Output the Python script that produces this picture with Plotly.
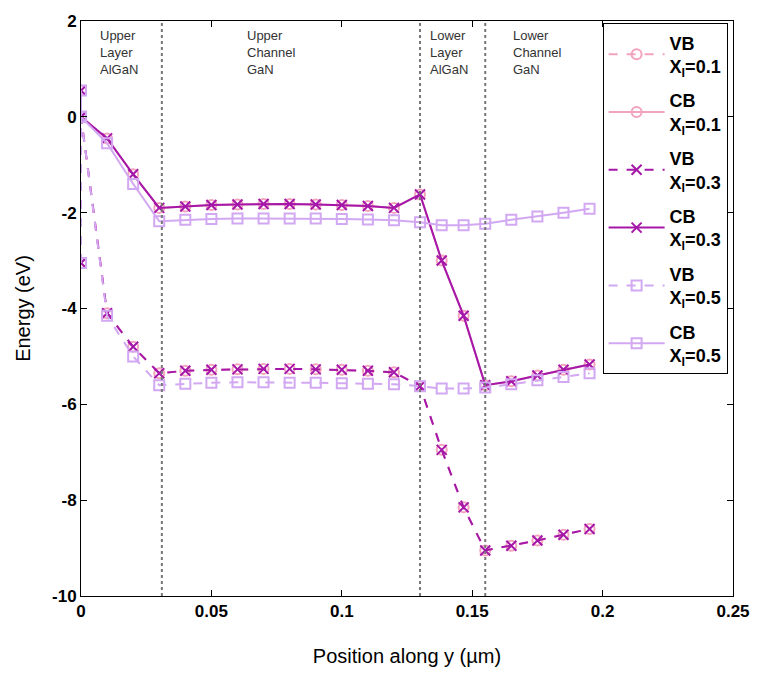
import plotly.graph_objects as go

# positions along y (um)
x_pos = [0, 0, 0.01, 0.02, 0.03, 0.04, 0.05, 0.06, 0.07, 0.08, 0.09, 0.10, 0.11, 0.12,
         0.13, 0.1383, 0.1467, 0.155, 0.165, 0.175, 0.185, 0.195]

cb_03 = [0.55, 0, -0.45, -1.2, -1.9, -1.87, -1.84, -1.83, -1.82, -1.82, -1.83, -1.84, -1.86, -1.9,
         -1.62, -3.0, -4.15, -5.6, -5.52, -5.4, -5.28, -5.17]
vb_03 = [-3.05, 0, -4.1, -4.8, -5.35, -5.3, -5.28, -5.27, -5.26, -5.26, -5.27, -5.28, -5.3, -5.33,
         -5.62, -6.95, -8.15, -9.05, -8.95, -8.84, -8.72, -8.6]
cb_05 = [0.55, 0, -0.55, -1.4, -2.18, -2.15, -2.13, -2.12, -2.12, -2.12, -2.12, -2.13, -2.14, -2.16,
         -2.2, -2.26, -2.26, -2.23, -2.15, -2.08, -2.0, -1.92]
vb_05 = [-3.05, 0, -4.15, -5.0, -5.6, -5.57, -5.55, -5.54, -5.54, -5.55, -5.55, -5.56, -5.57, -5.58,
         -5.62, -5.67, -5.67, -5.65, -5.58, -5.5, -5.43, -5.35]
# x = 0.1 curves are hidden under the x = 0.3 curves
cb_01 = list(cb_03)
vb_01 = list(vb_03)

boundaries = [0.031, 0.13, 0.155]
region_labels = ["Upper<br>Layer<br>AlGaN", "Upper<br>Channel<br>GaN",
                 "Lower<br>Layer<br>AlGaN", "Lower<br>Channel<br>GaN"]
region_x = [0.0065, 0.063, 0.133, 0.165]

x_ticks = [0, 0.05, 0.1, 0.15, 0.2, 0.25]
x_tick_text = ["0", "0.05", "0.1", "0.15", "0.2", "0.25"]
y_ticks = [2, 0, -2, -4, -6, -8, -10]

PINK = "#f2a3bd"
MAG = "#a517a8"
LAV = "#d2a8f2"

series = [
    ("VB", "0.1", vb_01, PINK, "circle-open", "dash"),
    ("CB", "0.1", cb_01, PINK, "circle-open", "solid"),
    ("VB", "0.3", vb_03, MAG, "x-thin-open", "dash"),
    ("CB", "0.3", cb_03, MAG, "x-thin-open", "solid"),
    ("VB", "0.5", vb_05, LAV, "square-open", "dash"),
    ("CB", "0.5", cb_05, LAV, "square-open", "solid"),
]

fig = go.Figure()
for i, (band, xl, ys, col, sym, dash) in enumerate(series):
    fig.add_trace(go.Scatter(
        x=x_pos, y=ys, mode="lines+markers",
        name=f"<b>{band}<br>X<sub>l</sub>=" + xl + "</b>",
        legendgroup=f"g{i}",
        line=dict(color=col, width=2, dash=dash),
        marker=dict(symbol=sym, size=10, color=col, line=dict(color=col, width=2)),
    ))

for b in boundaries:
    fig.add_shape(type="line", xref="x", yref="paper", x0=b, x1=b, y0=0, y1=1,
                  line=dict(color="#777777", width=2, dash="dot"), layer="above")

for lab, xx in zip(region_labels, region_x):
    fig.add_annotation(x=xx, y=1.9, xref="x", yref="y", text=lab, showarrow=False,
                       xanchor="left", yanchor="top", align="left",
                       font=dict(family="Liberation Sans, Arial", size=13, color="#333333"))

fig.update_layout(
    width=762, height=681,
    margin=dict(l=81, r=22, t=20, b=85),
    paper_bgcolor="white", plot_bgcolor="white",
    font=dict(family="Liberation Sans, Arial", color="black"),
    showlegend=True,
    legend=dict(x=0.8, y=0.996, xanchor="left", yanchor="top",
                bordercolor="black", borderwidth=1, bgcolor="white",
                font=dict(size=18, family="Liberation Sans, Arial"),
                tracegroupgap=8, itemwidth=56),
)
fig.update_xaxes(range=[0, 0.25], tickvals=x_ticks,
                 ticktext=[f"<b>{t}</b>" for t in x_tick_text],
                 ticks="inside", ticklen=6, tickcolor="black",
                 showline=True, linecolor="black", linewidth=1, mirror="ticks",
                 showgrid=False, zeroline=False,
                 tickfont=dict(size=17, family="Liberation Sans, Arial"),
                 title=dict(text="Position along y (µm)", font=dict(size=20), standoff=28))
fig.update_yaxes(range=[-10, 2], tickvals=y_ticks,
                 ticktext=[f"<b>{t}</b>" for t in y_ticks],
                 ticks="inside", ticklen=6, tickcolor="black",
                 showline=True, linecolor="black", linewidth=1, mirror="ticks",
                 showgrid=False, zeroline=False,
                 tickfont=dict(size=17, family="Liberation Sans, Arial"),
                 title=dict(text="Energy (eV)", font=dict(size=20), standoff=16))

fig.write_html("out.html")
